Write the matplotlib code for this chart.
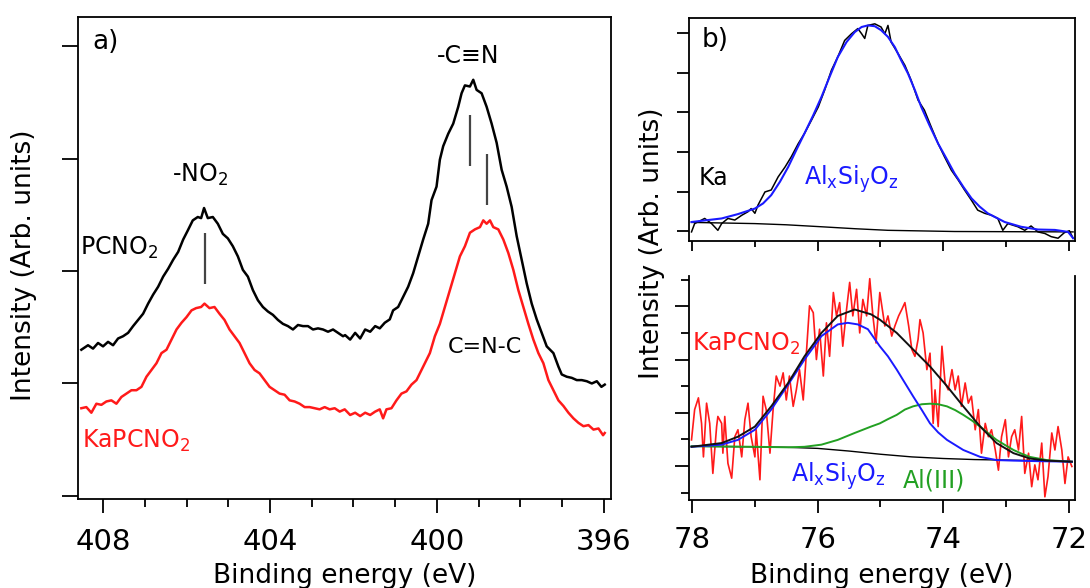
import matplotlib
matplotlib.use("Agg")
import matplotlib.pyplot as plt
from matplotlib.ticker import FixedLocator, NullFormatter

plt.rcParams['font.family'] = ['DejaVu Sans']
plt.rcParams['mathtext.fontset'] = 'dejavusans'

# ---------------- N 1s region (panel a) ----------------
be_pcno2 = [408.52, 408.36, 408.24, 408.12, 408.00, 407.88, 407.76, 407.64, 407.52, 407.40,
            407.28, 407.16, 407.04, 406.92, 406.80, 406.68, 406.56, 406.44, 406.32, 406.20,
            406.08, 405.97, 405.85, 405.73, 405.65, 405.58, 405.49, 405.37, 405.25, 405.13,
            405.01, 404.89, 404.77, 404.65, 404.53, 404.41, 404.29, 404.17, 404.05, 403.93,
            403.81, 403.69, 403.57, 403.45, 403.33, 403.21, 403.09, 402.97, 402.85, 402.73,
            402.61, 402.49, 402.37, 402.25,
            402.20, 402.08, 401.96, 401.84, 401.72, 401.60, 401.48, 401.37, 401.25, 401.13,
            401.05, 400.93, 400.81, 400.69, 400.57, 400.45, 400.33, 400.21, 400.13, 400.01,
            399.93, 399.85, 399.73, 399.61, 399.49, 399.41, 399.33, 399.21, 399.13, 399.05,
            398.93, 398.81, 398.69, 398.57, 398.45, 398.33, 398.21, 398.09, 397.97, 397.85,
            397.73, 397.61, 397.49, 397.37, 397.21, 397.09, 397.01, 396.89, 396.77, 396.65,
            396.53, 396.41, 396.29, 396.17, 396.06, 395.98]
int_pcno2 = [1.30, 1.34, 1.31, 1.36, 1.33, 1.37, 1.34, 1.40, 1.42, 1.45,
             1.51, 1.565, 1.62, 1.71, 1.79, 1.86, 1.95, 2.02, 2.10, 2.17,
             2.28, 2.36, 2.45, 2.48, 2.47, 2.56, 2.47, 2.48, 2.42, 2.33,
             2.29, 2.22, 2.13, 2.01, 1.95, 1.83, 1.74, 1.68, 1.64, 1.61,
             1.565, 1.53, 1.51, 1.48, 1.52, 1.51, 1.51, 1.48, 1.49, 1.48,
             1.46, 1.48, 1.45, 1.42,
             1.43, 1.39, 1.45, 1.40, 1.48, 1.46, 1.51, 1.49, 1.54, 1.57,
             1.65, 1.68, 1.77, 1.86, 1.98, 2.13, 2.28, 2.42, 2.63, 2.75,
             2.99, 3.11, 3.22, 3.31, 3.46, 3.58, 3.65, 3.64, 3.70, 3.61,
             3.58, 3.46, 3.31, 3.14, 2.90, 2.75, 2.57, 2.31, 2.10, 1.89,
             1.71, 1.57, 1.45, 1.33, 1.27, 1.15, 1.08, 1.06, 1.05, 1.03,
             1.03, 1.02, 1.00, 1.02, 0.97, 0.99]

be_kapcno2 = [408.52, 408.40, 408.28, 408.16, 408.04, 407.92, 407.80, 407.68, 407.56, 407.44,
              407.32, 407.20, 407.08, 406.96, 406.84, 406.72, 406.60, 406.48, 406.36, 406.24,
              406.12, 406.00, 405.88, 405.77, 405.65, 405.57, 405.45, 405.33, 405.21, 405.09,
              404.97, 404.85, 404.73, 404.61, 404.49, 404.37, 404.25, 404.13, 404.01, 403.89,
              403.77, 403.65, 403.53, 403.41, 403.29, 403.17, 403.05, 402.93, 402.81, 402.69,
              402.57, 402.45, 402.33, 402.21,
              402.08, 401.96, 401.84, 401.72, 401.60, 401.48, 401.37, 401.29, 401.21, 401.09,
              400.97, 400.85, 400.73, 400.61, 400.49, 400.41, 400.29, 400.17, 400.05, 399.93,
              399.81, 399.69, 399.57, 399.45, 399.33, 399.21, 399.09, 398.97, 398.89, 398.81,
              398.73, 398.65, 398.53, 398.41, 398.29, 398.17, 398.05, 397.93, 397.81, 397.69,
              397.57, 397.45, 397.33, 397.21, 397.09, 396.97, 396.85, 396.73, 396.61, 396.49,
              396.37, 396.25, 396.13, 396.02, 395.98]
int_kapcno2 = [0.78, 0.79, 0.74, 0.82, 0.81, 0.84, 0.85, 0.82, 0.88, 0.91,
               0.94, 0.94, 0.97, 1.06, 1.12, 1.18, 1.27, 1.30, 1.39, 1.48,
               1.54, 1.59, 1.65, 1.67, 1.68, 1.71, 1.67, 1.68, 1.62, 1.565,
               1.48, 1.42, 1.36, 1.27, 1.18, 1.12, 1.09, 1.03, 0.97, 0.94,
               0.91, 0.90, 0.85, 0.84, 0.82, 0.79, 0.79, 0.78, 0.77, 0.79,
               0.77, 0.78, 0.75, 0.77,
               0.72, 0.74, 0.71, 0.74, 0.72, 0.75, 0.77, 0.69, 0.77, 0.78,
               0.85, 0.91, 0.93, 0.99, 1.03, 1.09, 1.18, 1.27, 1.42, 1.53,
               1.68, 1.83, 1.98, 2.13, 2.22, 2.34, 2.37, 2.39, 2.45, 2.42,
               2.45, 2.39, 2.37, 2.28, 2.16, 2.01, 1.83, 1.68, 1.53, 1.39,
               1.27, 1.18, 1.03, 0.94, 0.85, 0.80, 0.74, 0.69, 0.65, 0.62,
               0.63, 0.59, 0.60, 0.54, 0.56]

# peak position markers: -NO2, -C≡N, C=N-C
mark_be = [405.56, 399.21, 398.81]
mark_lo = [1.88, 2.93, 2.59]
mark_hi = [2.34, 3.39, 3.04]

# ---------------- Al 2p region, kaolinite (panel b, top) ----------------
be_ka = [78.01, 77.96, 77.80, 77.69, 77.59, 77.53, 77.43, 77.32, 77.21, 77.11,
         77.06, 77.00, 76.95, 76.84, 76.74, 76.63, 76.52, 76.42, 76.31, 76.21,
         76.10, 75.99, 75.89, 75.78, 75.68, 75.57, 75.46, 75.36, 75.30, 75.25,
         75.20, 75.09, 74.99, 74.93, 74.88, 74.83, 74.72, 74.61, 74.51, 74.40,
         74.30, 74.19, 74.08, 73.98, 73.87, 73.76, 73.66, 73.55, 73.45, 73.34,
         73.23, 73.13, 73.05, 72.97, 72.81, 72.70, 72.60, 72.49, 72.38, 72.28,
         72.17, 72.07, 71.99, 71.93]
int_ka = [-0.02, 0.19, 0.32, 0.19, 0.02, 0.19, 0.32, 0.28, 0.40, 0.49,
          0.57, 0.45, 0.66, 0.99, 1.04, 1.37, 1.62, 1.88, 2.21, 2.47,
          2.80, 3.14, 3.56, 4.07, 4.40, 4.82, 4.99, 5.12, 4.99, 4.87,
          5.20, 5.24, 5.16, 4.99, 5.20, 4.78, 4.49, 4.19, 3.81, 3.31,
          3.06, 2.63, 2.21, 1.88, 1.54, 1.29, 1.04, 0.78, 0.53, 0.45,
          0.40, 0.32, 0.02, 0.19, 0.11, 0.02, 0.13, -0.02, -0.06, -0.14,
          -0.18, -0.04, 0.01, -0.18]

be_ka_fit = [78.01, 77.53, 77.27, 77.00, 76.87, 76.74, 76.60, 76.47, 76.34, 76.21,
             76.07, 75.94, 75.81, 75.68, 75.54, 75.41, 75.30, 75.20, 75.09, 74.99,
             74.88, 74.77, 74.67, 74.56, 74.45, 74.35, 74.22, 74.08, 73.95, 73.82,
             73.68, 73.55, 73.42, 73.29, 73.02, 72.76, 72.49, 72.22, 72.01, 71.93]
int_ka_fit = [0.23, 0.32, 0.43, 0.57, 0.70, 0.91, 1.25, 1.62, 2.05, 2.47,
              2.93, 3.39, 3.90, 4.40, 4.78, 5.03, 5.16, 5.20, 5.18, 5.08,
              4.91, 4.65, 4.32, 3.98, 3.56, 3.14, 2.68, 2.21, 1.84, 1.46,
              1.12, 0.83, 0.62, 0.45, 0.23, 0.11, 0.04, 0.03, -0.02, -0.18]

be_ka_bg = [78.01, 77.00, 76.50, 75.94, 75.40, 74.88, 73.82, 71.93]
int_ka_bg = [0.22, 0.19, 0.16, 0.11, 0.06, 0.02, -0.01, -0.02]

# ---------------- Al 2p region, KaPCNO2 (panel b, bottom) ----------------
be_kap = [78.01, 77.96, 77.90, 77.85, 77.82, 77.77, 77.72, 77.67, 77.61, 77.59,
          77.53, 77.51, 77.48, 77.43, 77.37, 77.32, 77.27, 77.21, 77.16, 77.11,
          77.06, 77.00, 76.98, 76.92, 76.87, 76.82, 76.76, 76.71, 76.66, 76.60,
          76.55, 76.50, 76.45, 76.39, 76.34, 76.29, 76.23, 76.18, 76.13, 76.07,
          76.02, 75.97, 75.91, 75.86, 75.81, 75.75, 75.70, 75.65, 75.60, 75.54,
          75.49, 75.44, 75.38, 75.33, 75.28, 75.22, 75.17, 75.12, 75.07, 75.01,
          74.93, 74.88,
          74.82, 74.77, 74.71, 74.66, 74.61, 74.55, 74.50, 74.45, 74.40, 74.37,
          74.32, 74.26, 74.21, 74.16, 74.13, 74.08, 74.02, 73.97, 73.92, 73.86,
          73.81, 73.76, 73.71, 73.65, 73.60, 73.55, 73.49, 73.44, 73.39, 73.33,
          73.28, 73.23, 73.17, 73.12, 73.07, 73.01, 72.96, 72.91, 72.86, 72.80,
          72.75, 72.70, 72.64, 72.59, 72.54, 72.49, 72.43, 72.38, 72.33, 72.27,
          72.22, 72.17, 72.11, 72.06, 72.01, 71.95]
int_kap = [0.49, 1.06, 1.28, 0.80, 0.17, 1.18, 0.80, -0.14, 0.74, 0.93,
           0.80, 0.24, 0.93, 0.05, -0.23, 0.55, 0.68, 0.17, 0.87, 1.18,
           0.55, 0.17, 0.68, -0.26, 1.31, 1.06, 0.24, 1.06, 1.69, 1.50,
           1.75, 1.24, 1.69, 1.12, 1.43, 1.81, 1.24, 2.12, 3.01, 2.88,
           2.00, 2.57, 1.69, 2.69, 2.06, 3.26, 2.82, 3.07, 2.25, 2.94,
           3.45, 2.82, 3.32, 2.50, 3.13, 2.82, 3.52, 2.82, 2.31, 3.26,
           2.63, 2.82,
           2.44, 2.63, 2.82, 2.94, 3.07, 2.63, 2.19, 2.06, 2.38, 2.75,
           2.50, 1.81, 2.12, 0.80, 1.43, 0.74, 2.25, 1.56, 1.43, 1.81,
           1.43, 1.69, 1.12, 1.56, 1.18, 1.31, 0.68, 1.06, 0.24, 0.80,
           0.55, 0.68, 0.30, -0.08, 0.55, 0.87, 0.17, 0.55, 0.68, 0.30,
           0.93, -0.14, 0.24, -0.39, 0.02, -0.26, 0.43, -0.58, -0.20, 0.62,
           0.30, 0.74, 0.30, -0.33, 0.17, -0.01]

be_env = [78.01, 77.53, 77.27, 77.00, 76.74, 76.47, 76.21, 75.94, 75.68, 75.41,
          75.15, 75.01, 74.88, 74.74, 74.48, 74.21, 73.94, 73.68, 73.41, 73.15,
          72.88, 72.62, 72.35, 71.95]
int_env = [0.36, 0.43, 0.55, 0.74, 1.12, 1.56, 2.06, 2.50, 2.82, 2.94,
           2.85, 2.75, 2.63, 2.50, 2.19, 1.87, 1.50, 1.12, 0.74, 0.43,
           0.24, 0.14, 0.10, 0.08]

be_alsio = [78.01, 77.53, 77.27, 77.00, 76.74, 76.47, 76.21, 75.94, 75.68, 75.52,
            75.36, 75.20, 75.01, 74.88, 74.74, 74.61, 74.48, 74.34, 74.21, 74.08,
            73.94, 73.68, 73.41, 73.15, 72.88, 72.50, 71.95]
int_alsio = [0.36, 0.40, 0.49, 0.68, 1.06, 1.53, 2.00, 2.44, 2.66, 2.69,
             2.66, 2.57, 2.25, 2.06, 1.81, 1.56, 1.31, 1.05, 0.80, 0.63,
             0.49, 0.30, 0.17, 0.11, 0.10, 0.09, 0.08]

be_al3 = [78.01, 77.00, 76.47, 76.21, 75.94, 75.68, 75.41, 75.15, 75.01, 74.88,
          74.74, 74.61, 74.48, 74.34, 74.21, 74.08, 73.94, 73.81, 73.68, 73.55,
          73.41, 73.28, 73.15, 73.01, 72.88, 72.75, 72.62, 72.35, 71.95]
int_al3 = [0.37, 0.36, 0.35, 0.36, 0.40, 0.49, 0.62, 0.74, 0.80, 0.88,
           0.96, 1.06, 1.12, 1.16, 1.17, 1.16, 1.12, 1.05, 0.96, 0.86,
           0.74, 0.61, 0.49, 0.39, 0.30, 0.23, 0.17, 0.11, 0.08]

be_kap_bg = [78.01, 77.00, 76.47, 76.00, 75.50, 75.00, 74.50, 74.00, 73.50, 73.00,
             72.50, 71.95]
int_kap_bg = [0.37, 0.36, 0.35, 0.33, 0.28, 0.22, 0.17, 0.14, 0.12, 0.11,
              0.10, 0.08]

# ---------------- figure ----------------
W, H = 1090, 588
fig = plt.figure(figsize=(W / 100, H / 100), dpi=100)


def frame(left, top, right, bottom):
    return [left / W, 1 - bottom / H, (right - left) / W, (bottom - top) / H]


ax_a = fig.add_axes(frame(78, 17, 611, 499))
ax_bt = fig.add_axes(frame(689, 17.5, 1075, 241))
ax_bb = fig.add_axes(frame(689, 276, 1075, 500))

for ax in (ax_a, ax_bt, ax_bb):
    for s in ax.spines.values():
        s.set_linewidth(1.3)
    ax.yaxis.set_major_formatter(NullFormatter())
    ax.yaxis.set_minor_formatter(NullFormatter())

# panel a
ax_a.plot(be_pcno2, int_pcno2, color='black', lw=1.8)
ax_a.plot(be_kapcno2, int_kapcno2, color='#ff1a1a', lw=1.8)
ax_a.vlines(mark_be, mark_lo, mark_hi, color='#444444', lw=1.6)
ax_a.set_xlim(408.6, 395.83)
ax_a.set_ylim(-0.027, 4.258)
ax_a.xaxis.set_major_locator(FixedLocator([408, 404, 400, 396]))
ax_a.xaxis.set_minor_locator(FixedLocator([407, 406, 405, 403, 402, 401, 399, 398, 397]))
ax_a.yaxis.set_major_locator(FixedLocator([0, 1, 2, 3, 4]))
ax_a.tick_params(axis='x', which='major', direction='out', length=10, width=1.3,
                 labelsize=21, pad=11)
ax_a.tick_params(axis='x', which='minor', direction='out', length=6, width=1.3)
ax_a.tick_params(axis='y', which='major', direction='out', length=11.5, width=1.3)

ax_a.text(407.95, 4.04, 'a)', ha='center', va='center', fontsize=19)
ax_a.text(406.35, 2.79, r'-$\mathregular{NO_2}$', ha='left', va='baseline', fontsize=17)
ax_a.text(400.01, 3.85, '-C\u2261N', ha='left', va='baseline', fontsize=17)
ax_a.text(408.55, 2.14, r'$\mathregular{PCNO_2}$', ha='left', va='baseline', fontsize=17)
ax_a.text(408.51, 0.43, r'$\mathregular{KaPCNO_2}$', ha='left', va='baseline',
          fontsize=17, color='#ff1a1a')
ax_a.text(399.73, 1.27, 'C=N-C', ha='left', va='baseline', fontsize=16)

# panel b, top
ax_bt.plot(be_ka, int_ka, color='black', lw=1.1)
ax_bt.plot(be_ka_bg, int_ka_bg, color='black', lw=1.0)
ax_bt.plot(be_ka_fit, int_ka_fit, color='#1a1aff', lw=1.5)
ax_bt.set_xlim(78.05, 71.90)
ax_bt.set_ylim(-0.25, 5.40)
ax_bt.xaxis.set_major_locator(FixedLocator([78, 76, 74, 72]))
ax_bt.xaxis.set_minor_locator(FixedLocator([77, 75, 73]))
ax_bt.xaxis.set_major_formatter(NullFormatter())
ax_bt.yaxis.set_major_locator(FixedLocator([0, 1, 2, 3, 4, 5]))
ax_bt.tick_params(axis='x', which='major', direction='out', length=7, width=1.3)
ax_bt.tick_params(axis='x', which='minor', direction='out', length=4.5, width=1.3)
ax_bt.tick_params(axis='y', which='major', direction='out', length=8.5, width=1.3)
ax_bt.text(77.85, 4.65, 'b)', ha='left', va='baseline', fontsize=19)
ax_bt.text(77.90, 1.16, 'Ka', ha='left', va='baseline', fontsize=17)
ax_bt.text(76.21, 1.16, r'$\mathregular{Al_xSi_yO_z}$', ha='left', va='baseline',
           fontsize=17, color='#1a1aff')

# panel b, bottom
ax_bb.plot(be_kap, int_kap, color='#ff1a1a', lw=1.2)
ax_bb.plot(be_kap_bg, int_kap_bg, color='black', lw=1.0)
ax_bb.plot(be_al3, int_al3, color='#22a022', lw=1.4)
ax_bb.plot(be_alsio, int_alsio, color='#1a1aff', lw=1.4)
ax_bb.plot(be_env, int_env, color='#111111', lw=1.4)
ax_bb.set_xlim(78.05, 71.90)
ax_bb.set_ylim(-0.64, 3.57)
ax_bb.spines['top'].set_visible(False)
ax_bb.xaxis.set_major_locator(FixedLocator([78, 76, 74, 72]))
ax_bb.xaxis.set_minor_locator(FixedLocator([77, 75, 73]))
ax_bb.yaxis.set_major_locator(FixedLocator([0, 1, 2, 3]))
ax_bb.yaxis.set_minor_locator(FixedLocator([-0.5, 0.5, 1.5, 2.5, 3.5]))
ax_bb.tick_params(axis='x', which='major', direction='out', length=9, width=1.3,
                  labelsize=21, pad=10)
ax_bb.tick_params(axis='x', which='minor', direction='out', length=5, width=1.3)
ax_bb.tick_params(axis='y', which='major', direction='out', length=10, width=1.3)
ax_bb.tick_params(axis='y', which='minor', direction='out', length=6, width=1.3)
ax_bb.text(78.01, 2.16, r'$\mathregular{KaPCNO_2}$', ha='left', va='baseline',
           fontsize=17, color='#ff1a1a')
ax_bb.text(76.42, -0.30, r'$\mathregular{Al_xSi_yO_z}$', ha='left', va='baseline',
           fontsize=17, color='#1a1aff')
ax_bb.text(74.64, -0.41, 'Al(III)', ha='left', va='baseline', fontsize=17,
           color='#22a022')

# axis titles
fig.text(24 / W, 1 - 265 / H, 'Intensity (Arb. units)', rotation=90,
         ha='center', va='center', fontsize=19)
fig.text(652 / W, 1 - 243 / H, 'Intensity (Arb. units)', rotation=90,
         ha='center', va='center', fontsize=19)
fig.text(345 / W, 1 - 583 / H, 'Binding energy (eV)', ha='center', va='baseline',
         fontsize=19)
fig.text(882 / W, 1 - 583 / H, 'Binding energy (eV)', ha='center', va='baseline',
         fontsize=19)

fig.savefig('out.png', dpi=100)
